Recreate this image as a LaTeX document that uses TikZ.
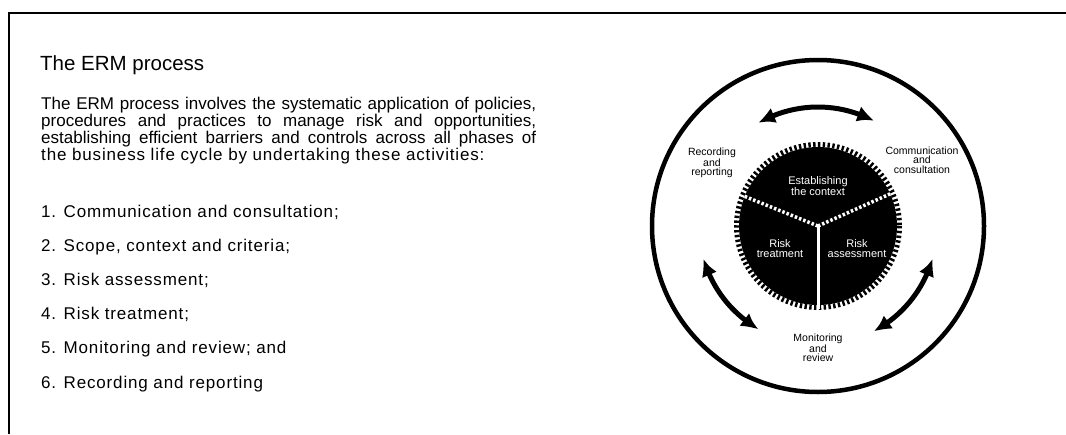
\documentclass[tikz,border=0pt]{standalone}
\usepackage{fontspec}
\setmainfont{Liberation Sans}
\newfontfamily\bodyfont[LetterSpace=5]{Liberation Sans}
\usetikzlibrary{arrows.meta,bending}
\begin{document}
\begin{tikzpicture}[x=1pt,y=-1pt,
  frame/.style={line width=2pt},
  titletext/.style={anchor=base west,inner sep=0pt,font=\fontsize{20.5}{24}\selectfont},
  justtext/.style={anchor=base west,inner sep=0pt,font=\fontsize{17}{19}\selectfont},
  bodytext/.style={anchor=base west,inner sep=0pt,font=\bodyfont\fontsize{17}{19}\selectfont},
  lab/.style={align=center,inner sep=0pt,font=\fontsize{10.5}{9.5}\selectfont},
  inlab/.style={lab,text=white,font=\fontsize{11}{10}\selectfont},
  ring/.style={line width=4.5pt},
  cyc/.style={line width=5pt,{Latex[length=17pt,width=16pt,bend]}-{Latex[length=17pt,width=16pt,bend]}},
  tooth/.style={line width=5pt,dash pattern=on 2.4pt off 2.4pt},
  divider/.style={white,line width=3.5pt,dash pattern=on 2.5pt off 2pt},
  spoke/.style={white,line width=3pt}]
\useasboundingbox (0,0) rectangle (1066,434);
\draw[frame] (9,434) -- (9,13) -- (1066,13);

\node[titletext] (title) at (40,70) {The ERM process};
\node[justtext] (b1) at (41,109) {\makebox[495pt][s]{The ERM process involves the systematic application of policies,}};
\node[justtext] (b2) at (41,126) {\makebox[495pt][s]{procedures and practices to manage risk and opportunities,}};
\node[justtext] (b3) at (41,143) {\makebox[495pt][s]{establishing efficient barriers and controls across all phases of}};
\node[bodytext] (b4) at (41,160) {the business life cycle by undertaking these activities:};
\node[bodytext] (l1) at (41,217) {1. Communication and consultation;};
\node[bodytext] (l2) at (41,251) {2. Scope, context and criteria;};
\node[bodytext] (l3) at (41,285) {3. Risk assessment;};
\node[bodytext] (l4) at (41,319) {4. Risk treatment;};
\node[bodytext] (l5) at (41,353) {5. Monitoring and review; and};
\node[bodytext] (l6) at (41,388) {6. Recording and reporting};

\coordinate (c) at (818,226);
\draw[ring] (c) circle[radius=166];
\fill (c) circle[radius=79];
\draw[tooth] (c) circle[radius=81.5];
\draw[divider] (c) -- ++(-158:80);
\draw[divider] (c) -- ++(-24:80);
\draw[spoke] (c) -- ++(90:83);

\coordinate (a1) at ([shift={(-62:119)}]c);
\coordinate (a2) at ([shift={(-196:119)}]c);
\coordinate (a3) at ([shift={(-298:119)}]c);
\draw[cyc] (a1) arc[start angle=-62,end angle=-120,radius=119];
\draw[cyc] (a2) arc[start angle=-196,end angle=-240,radius=119];
\draw[cyc] (a3) arc[start angle=-298,end angle=-344,radius=119];

\node[lab] (rec) at (712,163) {Recording\\and\\reporting};
\node[lab] (com) at (922,160) {Communication\\and\\consultation};
\node[lab] (mon) at (818,348) {Monitoring\\and\\review};
\node[inlab] (est) at (818,186) {Establishing\\the context};
\node[inlab] (trt) at (780,249) {Risk\\treatment};
\node[inlab] (ass) at (857,249) {Risk\\assessment};
\end{tikzpicture}
\end{document}
